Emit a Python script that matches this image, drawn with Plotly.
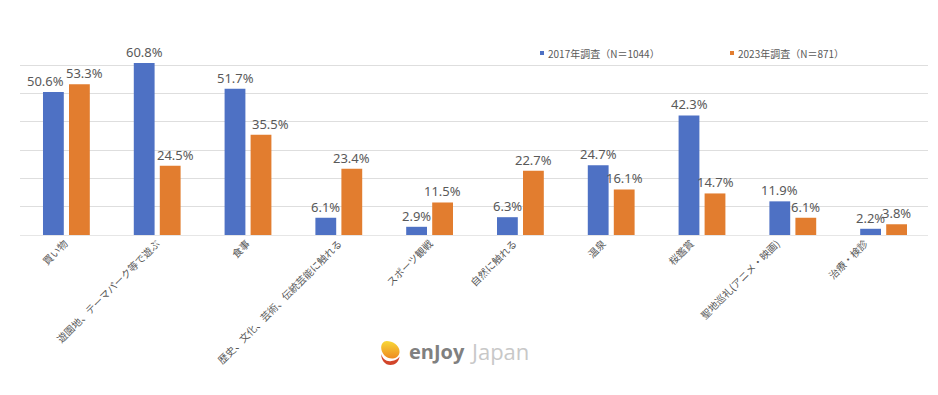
import base64
import plotly.graph_objects as go

categories = ["買い物", "遊園地、テーマパーク等で遊ぶ", "食事", "歴史、文化、芸術、伝統芸能に触れる", "スポーツ観戦",
              "自然に触れる", "温泉", "桜鑑賞", "聖地巡礼(アニメ・映画)", "治療・検診"]
series_2017 = [50.6, 60.8, 51.7, 6.1, 2.9, 6.3, 24.7, 42.3, 11.9, 2.2]
series_2023 = [53.3, 24.5, 35.5, 23.4, 11.5, 22.7, 16.1, 14.7, 6.1, 3.8]
name_2017 = "2017年調査（N＝1044）"
name_2023 = "2023年調査（N＝871）"
# horizontal nudges of the value labels, as placed by hand in the original chart
nudge_2017 = [-8, 0, 0, 0, 0, 0, 0, 0, 0, 0]
nudge_2023 = [5, 5, 9, 0, 0, 0, 0, 0, 0, 0]
# the original's axis labels drift against the bars (px from the category centre)
label_drift = [-1.4, -0.2, -1, 0.2, 0.4, -6.4, -8.2, -11, -15.8, -18.6]
BLUE = "#4E71C4"
ORANGE = "#E27D2F"
TEXT = "#595959"
FONT = "Noto Sans CJK JP"
W, H = 938, 395
L, R, T, B = 20, 10, 37, 160
SLOT = (W - L - R) / 10
BAR_OFFSET = 13  # px from category centre to the centre of each bar


def px(x):
    return (x - L) / (W - L - R)


def py(y):
    return 1 - (y - T) / (H - T - B)


idx = list(range(len(categories)))
fig = go.Figure()
annotations = []
for name, vals, col, side, nudge in [(name_2017, series_2017, BLUE, -1, nudge_2017),
                                     (name_2023, series_2023, ORANGE, 1, nudge_2023)]:
    fig.add_bar(x=idx, y=vals, name=name, customdata=categories, marker=dict(color=col, line=dict(width=0)),
                hovertemplate="%{customdata}: %{y:.1f}%<extra>" + name + "</extra>", showlegend=False)
    for i, v, n in zip(idx, vals, nudge):
        annotations.append(dict(text=f"{v:.1f}%", x=i, y=v, xref="x", yref="y", xanchor="center", yanchor="middle",
                                xshift=side * BAR_OFFSET + n, yshift=11, showarrow=False,
                                font=dict(family="Noto Sans", size=13, color=TEXT)))

logo_svg = """<svg xmlns='http://www.w3.org/2000/svg' viewBox='0 0 20 24'>
<defs><linearGradient id='g' x1='0.5' y1='0' x2='0.5' y2='1'><stop offset='0' stop-color='#F8D838'/><stop offset='1' stop-color='#EE8A20'/></linearGradient></defs>
<path d='M10 24C4 24 0 19 0.3 13C1.5 18 6 21 11 20C15 19.5 18 18 19.5 15.5C19 20.5 15 24 10 24Z' fill='#D2452A'/>
<path d='M6 0C12 0 19 4 19.5 10C19.8 14 17 17 12.5 17.5C6 18 0.5 13 0.2 7C0 3 2.5 0 6 0Z' fill='url(#g)'/>
</svg>"""
logo_uri = "data:image/svg+xml;base64," + base64.b64encode(logo_svg.encode()).decode()

annotations += [
    dict(text=name_2017, xref="paper", yref="paper", x=px(546), y=py(53.5), xanchor="left", yanchor="middle",
         showarrow=False, font=dict(family=FONT, size=10, color=TEXT)),
    dict(text=name_2023, xref="paper", yref="paper", x=px(736), y=py(53.5), xanchor="left", yanchor="middle",
         showarrow=False, font=dict(family=FONT, size=10, color=TEXT)),
    dict(text="<b>enJoy</b>", xref="paper", yref="paper", x=px(407), y=py(351), xanchor="left", yanchor="middle",
         showarrow=False, font=dict(family="Open Sans", size=20, color="#808080")),
    dict(text="Japan", xref="paper", yref="paper", x=px(468), y=py(351), xanchor="left", yanchor="middle",
         showarrow=False, font=dict(family="Open Sans", size=22, color="#C8C8C8")),
]

fig.update_layout(
    width=W, height=H, margin=dict(l=L, r=R, t=T, b=B, pad=0), autosize=False,
    paper_bgcolor="white", plot_bgcolor="white", barmode="group", bargap=0.427, bargroupgap=0.2,
    font=dict(family=FONT, color=TEXT),
    xaxis=dict(tickangle=-45, tickfont=dict(family=FONT, size=10, color=TEXT), showgrid=False,
               showline=False, ticks="", zeroline=False, automargin=False, range=[-0.511, 9.489],
               tickmode="array", tickvals=[i + d / SLOT for i, d in zip(idx, label_drift)], ticktext=categories),
    yaxis=dict(range=[0, 70.03], dtick=10, showticklabels=False, showgrid=True, gridcolor="#DEDEDE", gridwidth=1,
               zeroline=True, zerolinecolor="#E6E6E6", zerolinewidth=1, ticks="", automargin=False),
    shapes=[
        dict(type="rect", xref="paper", yref="paper", x0=px(540), x1=px(544), y0=py(55), y1=py(51), fillcolor=BLUE, line_width=0),
        dict(type="rect", xref="paper", yref="paper", x0=px(730), x1=px(734), y0=py(55), y1=py(51), fillcolor=ORANGE, line_width=0),
    ],
    annotations=annotations,
    images=[dict(source=logo_uri, xref="paper", yref="paper", x=px(381), y=py(341), sizex=19 / (W - L - R),
                 sizey=24 / (H - T - B), xanchor="left", yanchor="top", sizing="stretch", layer="above")],
)
fig.write_html("out.html", config={"displayModeBar": False},
               post_script="document.body.style.margin='0';document.body.style.overflow='hidden';")
